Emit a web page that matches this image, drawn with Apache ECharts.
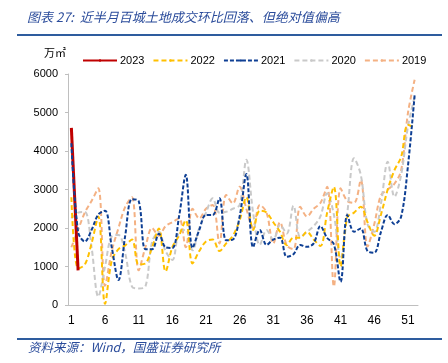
<!DOCTYPE html>
<html><head><meta charset="utf-8">
<script src="https://cdn.jsdelivr.net/npm/echarts@6/dist/echarts.min.js"></script>
<style>html,body{margin:0;padding:0;background:#fff}#c{width:448px;height:363px}</style>
</head><body><div id="c"></div>
<script>
const weeks = Array.from({length:52},(_,i)=>String(i+1));
const yTicks = [0,1000,2000,3000,4000,5000,6000];
const s2023 = [4600,900];
const s2022 = [2800,950,1050,1600,2300,30,1150,1450,1550,1700,1050,1080,1500,1990,870,1500,1800,2200,1080,1400,1650,1700,1400,1600,1800,2200,2800,1950,2450,2400,2150,1900,1550,1750,1750,1900,1700,1530,2400,3070,1000,2280,2400,2550,2150,1800,2350,3000,3500,3850,4680,4600];
const s2021 = [4200,1900,1650,1950,2350,2450,1500,650,1800,2750,2700,1450,1450,1850,1500,1480,2300,3380,1480,1950,2340,2340,2770,1680,1700,2300,3400,1500,1950,1560,1700,1750,1250,1320,1560,1510,1600,2050,1740,1580,600,2340,1900,1990,1400,1360,1900,2340,2100,2300,3600,5450];
const s2020 = [2250,2400,2420,1500,220,1000,1780,1820,1340,480,430,480,1650,1900,1400,1170,1900,1950,1420,2000,2400,2770,2400,2420,2500,2600,3770,2400,1560,1950,1690,2080,1860,2580,1770,1900,2050,2300,2900,2350,1200,2400,3810,3380,2100,1900,2640,3720,2810,3380,4630,5410];
const s2019 = [1500,1950,2400,2700,3030,500,1400,2000,2550,2800,900,1500,2000,1800,2050,2150,2250,1500,2500,2250,2500,2600,1600,2860,2640,3070,2500,2000,2600,2400,1600,2150,1550,1450,2550,2300,2500,2650,3070,480,3030,2700,2650,3250,1520,2100,2850,3000,3150,3500,4980,5850];

const chart = echarts.init(document.getElementById('c'));
const blue = '#2B4C9B';
function ser(name, data, color, width, dash, z){
  return {name, type:'line', data, symbol:'none', smooth:0.35, z,
    lineStyle:{color, width, type:dash}, itemStyle:{color}};
}
chart.setOption({
  animation:false,
  textStyle:{fontFamily:'Liberation Sans, Arial, sans-serif'},
  grid:{left:68,right:30,top:74,bottom:58},
  legend:{left:82,top:55,itemWidth:34,itemHeight:3,itemGap:8,padding:0,
    textStyle:{fontSize:11,color:'#000',padding:[0,0,0,-2]},
    data:['2023','2022','2021','2020','2019']},
  xAxis:{type:'category',data:weeks,boundaryGap:true,
    axisLine:{lineStyle:{color:'#BFBFBF'}},axisTick:{show:false},
    axisLabel:{interval:4,color:'#000',fontSize:12,margin:10}},
  yAxis:{type:'value',min:yTicks[0],max:yTicks[yTicks.length-1],interval:1000,
    splitLine:{show:false},
    axisLine:{show:true,lineStyle:{color:'#BFBFBF'}},
    axisTick:{show:true,length:3,lineStyle:{color:'#BFBFBF'}},
    axisLabel:{color:'#000',fontSize:11,margin:10,formatter:v=>String(v)}},
  graphic:[
    {type:'text',left:27,top:11,style:{text:'图表 27:  近半月百城土地成交环比回落、但绝对值偏高',
      fill:blue,font:'italic 13px "Noto Sans CJK SC", sans-serif'}},
    {type:'rect',shape:{x:17,y:34,width:425,height:2},style:{fill:'#2E5C9E'}},
    {type:'text',left:44,top:47,style:{text:'万㎡',fill:'#000',font:'11px "Noto Sans CJK SC", sans-serif'}},
    {type:'rect',shape:{x:17,y:338,width:425,height:2},style:{fill:'#2E5C9E'}},
    {type:'text',left:28,top:341,style:{text:'资料来源：Wind，国盛证券研究所',
      fill:blue,font:'italic 12.5px "Noto Sans CJK SC", sans-serif'}}
  ],
  series:[
    ser('2023',s2023,'#C00000',3,'solid',5),
    ser('2022',s2022,'#FFC000',2,[5,3],4),
    ser('2021',s2021,'#0E3F94',2,[4,2],6),
    ser('2020',s2020,'#C9C9C9',2,[5,3],3),
    ser('2019',s2019,'#F4B183',2,[5,3],2)
  ]
});
</script></body></html>
